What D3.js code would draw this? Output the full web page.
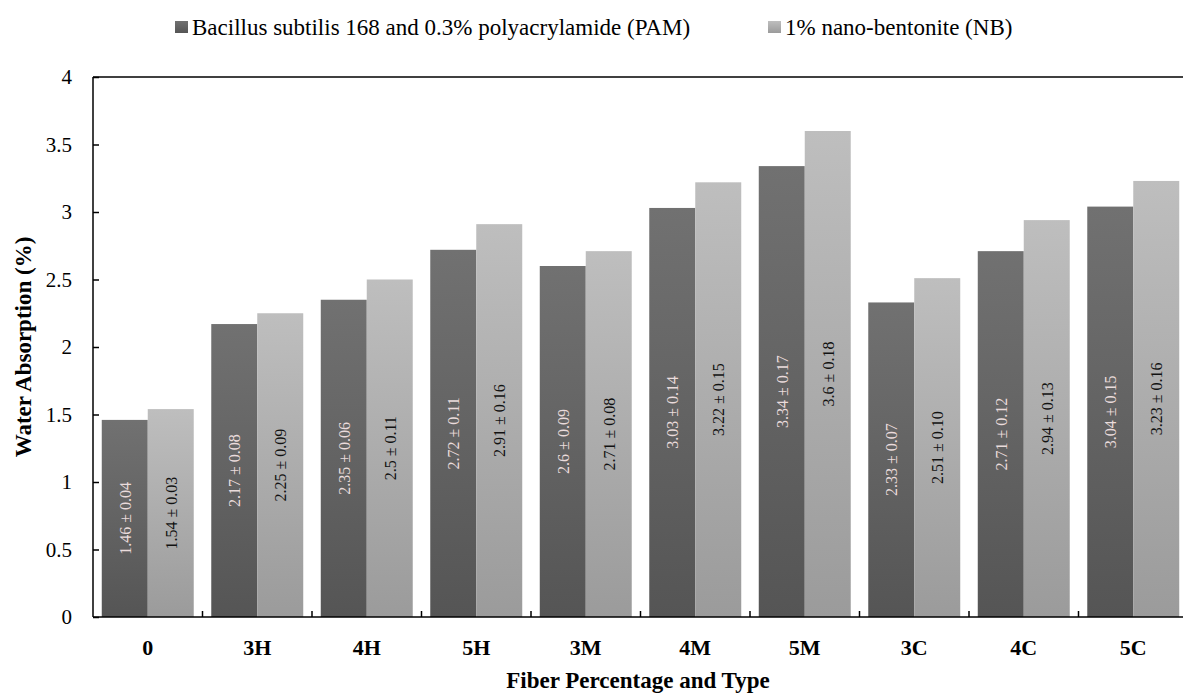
<!DOCTYPE html>
<html>
<head>
<meta charset="utf-8">
<script src="https://cdn.jsdelivr.net/npm/d3@7"></script>
<style>
  body { margin: 0; background: #fff; }
</style>
</head>
<body>
<div id="chart"></div>
<script>
const categories = ["0", "3H", "4H", "5H", "3M", "4M", "5M", "3C", "4C", "5C"];
const seriesNames = ["Bacillus subtilis 168 and 0.3% polyacrylamide (PAM)", "1% nano-bentonite (NB)"];
const pamValues = [1.46, 2.17, 2.35, 2.72, 2.6, 3.03, 3.34, 2.33, 2.71, 3.04];
const pamErrors = ["0.04", "0.08", "0.06", "0.11", "0.09", "0.14", "0.17", "0.07", "0.12", "0.15"];
const nbValues = [1.54, 2.25, 2.5, 2.91, 2.71, 3.22, 3.6, 2.51, 2.94, 3.23];
const nbErrors = ["0.03", "0.09", "0.11", "0.16", "0.08", "0.15", "0.18", "0.10", "0.13", "0.16"];
const yTicks = [0, 0.5, 1, 1.5, 2, 2.5, 3, 3.5, 4];

const W = 1183, H = 693;
const plotLeft = 93, plotTop = 77, plotRight = 1188, plotBottom = 617;
const SERIF = "'Liberation Serif'";

const svg = d3.select("#chart").append("svg")
    .attr("width", W)
    .attr("height", H)
    .style("font-family", SERIF);

const defs = svg.append("defs");
function grad(id, c1, c2) {
    const g = defs.append("linearGradient").attr("id", id)
        .attr("x1", 0).attr("y1", 0).attr("x2", 0).attr("y2", 1);
    g.append("stop").attr("offset", "0%").attr("stop-color", c1);
    g.append("stop").attr("offset", "100%").attr("stop-color", c2);
}
grad("gDark", "#717171", "#555555");
grad("gLight", "#bebebe", "#9b9b9b");

const x = d3.scaleBand().domain(categories).range([plotLeft, plotRight]).paddingInner(0.16).paddingOuter(0.08);
const x1 = d3.scaleBand().domain([0, 1]).range([0, x.bandwidth()]);
const y = d3.scaleLinear().domain([0, 4]).range([plotBottom, plotTop]);

const rows = categories.map((c, i) => ({
    cat: c,
    bars: [
        { s: 0, v: pamValues[i], e: pamErrors[i] },
        { s: 1, v: nbValues[i], e: nbErrors[i] }
    ]
}));

const groups = svg.selectAll("g.grp")
    .data(rows)
    .enter()
    .append("g")
    .attr("class", "grp")
    .attr("transform", d => `translate(${x(d.cat)},0)`);

groups.selectAll("rect")
    .data(d => d.bars)
    .enter()
    .append("rect")
    .attr("x", d => x1(d.s))
    .attr("y", d => y(d.v))
    .attr("width", x1.bandwidth())
    .attr("height", d => y(0) - y(d.v))
    .attr("fill", d => d.s === 0 ? "url(#gDark)" : "url(#gLight)");

groups.selectAll("text.val")
    .data(d => d.bars)
    .enter()
    .append("text")
    .attr("class", "val")
    .attr("transform", d => `translate(${x1(d.s) + x1.bandwidth() / 2 + 6},${(y(d.v) + y(0)) / 2}) rotate(-90)`)
    .attr("text-anchor", "middle")
    .style("font-family", SERIF)
    .style("font-size", "16px")
    .style("fill", d => d.s === 0 ? "#eadcdc" : "#111111")
    .text(d => `${d.v} \u00b1 ${d.e}`);

// frame lines
svg.append("line").attr("x1", plotLeft).attr("x2", W).attr("y1", plotTop).attr("y2", plotTop)
    .attr("stroke", "#000").attr("stroke-width", 1.5);
svg.append("line").attr("x1", plotLeft).attr("x2", plotLeft).attr("y1", plotTop).attr("y2", plotBottom)
    .attr("stroke", "#000").attr("stroke-width", 1.5);
svg.append("line").attr("x1", plotLeft).attr("x2", W).attr("y1", plotBottom).attr("y2", plotBottom)
    .attr("stroke", "#000").attr("stroke-width", 1.5);

// y axis
const yAxis = svg.append("g")
    .attr("transform", `translate(${plotLeft},0)`)
    .call(d3.axisRight(y).tickValues(yTicks).tickSize(6).tickFormat(""));
yAxis.select(".domain").remove();
yAxis.selectAll("line").attr("stroke-width", 1.5);
svg.selectAll("text.ytick")
    .data(yTicks)
    .enter()
    .append("text")
    .attr("class", "ytick")
    .attr("x", plotLeft - 21)
    .attr("y", d => y(d) + 7)
    .attr("text-anchor", "end")
    .style("font-family", SERIF)
    .style("font-size", "21px")
    .text(d => d);

// x ticks at category boundaries
const step = x.step();
svg.selectAll("line.xtick")
    .data(categories.slice(1))
    .enter()
    .append("line")
    .attr("class", "xtick")
    .attr("x1", d => x(d) - x.paddingInner() * step / 2)
    .attr("x2", d => x(d) - x.paddingInner() * step / 2)
    .attr("y1", plotBottom)
    .attr("y2", plotBottom - 6)
    .attr("stroke", "#000").attr("stroke-width", 1.5);

svg.selectAll("text.xlab")
    .data(categories)
    .enter()
    .append("text")
    .attr("class", "xlab")
    .attr("x", d => x(d) + x.bandwidth() / 2)
    .attr("y", 655)
    .attr("text-anchor", "middle")
    .style("font-family", SERIF)
    .style("font-size", "22px")
    .style("font-weight", "bold")
    .text(d => d);

svg.append("text")
    .attr("x", 638)
    .attr("y", 688)
    .attr("text-anchor", "middle")
    .style("font-family", SERIF)
    .style("font-size", "23px")
    .style("font-weight", "bold")
    .text("Fiber Percentage and Type");

svg.append("text")
    .attr("transform", `translate(31,${(plotTop + plotBottom) / 2}) rotate(-90)`)
    .attr("text-anchor", "middle")
    .style("font-family", SERIF)
    .style("font-size", "23px")
    .style("font-weight", "bold")
    .text("Water Absorption (%)");

// legend
const legendX = [175, 768];
const leg = svg.selectAll("g.leg")
    .data(seriesNames)
    .enter()
    .append("g")
    .attr("class", "leg")
    .attr("transform", (d, i) => `translate(${legendX[i]},0)`);
leg.append("rect")
    .attr("x", 0).attr("y", 21).attr("width", 13).attr("height", 12)
    .attr("fill", (d, i) => i === 0 ? "url(#gDark)" : "url(#gLight)");
leg.append("text")
    .attr("x", 17).attr("y", 35)
    .style("font-family", SERIF)
    .style("font-size", "23px")
    .text(d => d);
</script>
</body>
</html>
